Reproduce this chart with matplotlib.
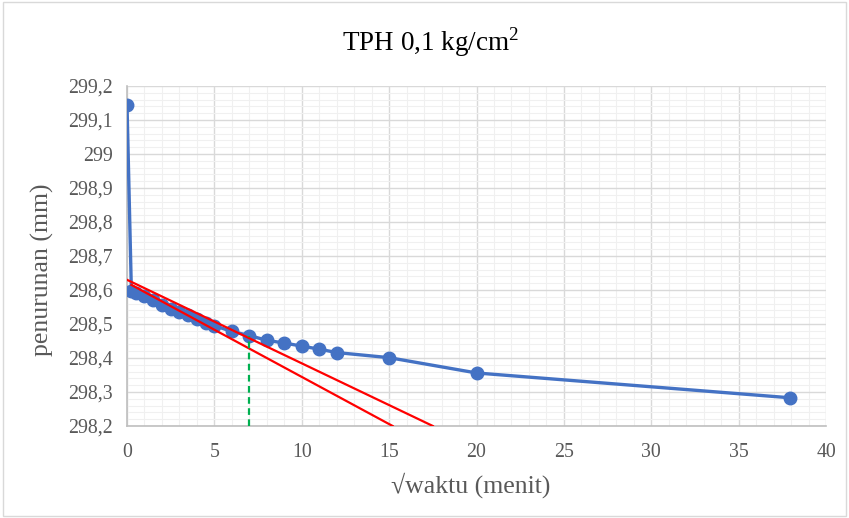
import matplotlib.pyplot as plt
from matplotlib.ticker import MultipleLocator, FuncFormatter
from matplotlib.patches import Rectangle

# data
sqrt_t = [0, 0.25, 0.5, 1, 1.5, 2, 2.5, 3, 3.5, 4, 4.5, 5, 6, 7, 8, 9, 10, 11, 12, 15, 20, 37.95]
settle = [299.145, 298.597, 298.592, 298.583, 298.572, 298.557, 298.545, 298.535, 298.525,
          298.514, 298.503, 298.495, 298.478, 298.466, 298.452, 298.444, 298.435, 298.426,
          298.416, 298.401, 298.356, 298.283]

tangent_x = [0.25, 15.2]
tangent_y = [298.615, 298.2]
offset_x = [0, 17.5]
offset_y = [298.63, 298.2]

t90_x = [7, 7]
t90_y = [298.2, 298.466]

plt.rcParams['font.family'] = ['Liberation Serif', 'DejaVu Serif']
plt.rcParams['mathtext.fontset'] = 'custom'
plt.rcParams['mathtext.rm'] = 'Liberation Serif'

fig = plt.figure(figsize=(8.49, 5.18), dpi=100)
ax = fig.add_axes([0.1496, 0.1776, 0.8234, 0.6564])

ax.plot(sqrt_t, settle, color='#4472C4', lw=2.4, marker='o', ms=9, zorder=3)
ax.plot(tangent_x, tangent_y, color='#FF0000', lw=1.6, zorder=4)
ax.plot(offset_x, offset_y, color='#FF0000', lw=1.6, zorder=4)
ax.plot(t90_x, t90_y, color='#00B050', lw=1.6, ls=(0, (3, 2)), zorder=4)

ax.set_xlim(0, 40)
ax.set_ylim(298.2, 299.2)
ax.xaxis.set_major_locator(MultipleLocator(5))
ax.xaxis.set_minor_locator(MultipleLocator(1))
ax.yaxis.set_major_locator(MultipleLocator(0.1))
ax.yaxis.set_minor_locator(MultipleLocator(0.02))

def fmt(v, pos):
    s = f'{v:.1f}'
    if s.endswith('.0'):
        s = s[:-2]
    return s.replace('.', ',')

ax.yaxis.set_major_formatter(FuncFormatter(fmt))

ax.grid(which='major', color='#D9D9D9', lw=1.0)
ax.grid(which='minor', color='#F0F0F0', lw=0.8)
ax.set_axisbelow(True)
for s in ['top', 'right']:
    ax.spines[s].set_visible(False)
for s in ['left', 'bottom']:
    ax.spines[s].set_color('#BFBFBF')
    ax.spines[s].set_linewidth(1.2)
ax.tick_params(which='both', length=0, labelsize=14.3, colors='#595959')
ax.tick_params(axis='x', pad=12)
ax.tick_params(axis='y', pad=10)

fig.text(0.507, 0.918, r'TPH 0,1 kg/cm$^\mathrm{2}$', fontsize=19.5, ha='center', va='center')
fig.text(0.5545, 0.064, '√waktu (menit)', fontsize=18.5, color='#595959', ha='center', va='center',
         family=['Liberation Serif', 'DejaVu Sans'])
fig.text(0.05, 0.48, 'penurunan (mm)', fontsize=18.5, color='#595959', ha='center', va='center',
         rotation=90)

fig.patches.append(Rectangle((0.003, 0.004), 0.994, 0.992, transform=fig.transFigure,
                             fill=False, edgecolor='#D9D9D9', lw=1))

fig.savefig('out.png', dpi=100)
